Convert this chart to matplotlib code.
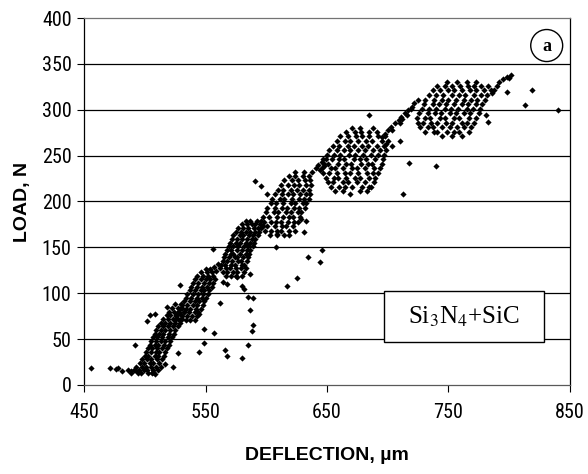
"""Load-deflection scatter for Si3N4+SiC, redrawn from the reference figure."""

import matplotlib

matplotlib.use("Agg")

import matplotlib.pyplot as plt
from matplotlib import font_manager
from matplotlib.patches import Ellipse, Rectangle
import numpy as np


# rows of (load, [deflections])
CLUSTER_1 = [
    (13, [489, 494, 497, 503, 506]),
    (16, [491, 495, 499, 502, 507, 511]),
    (20, [493, 498, 501, 505, 509, 513]),
    (24, [496, 499, 504, 507, 512]),
    (28, [498, 502, 505, 510, 514]),
    (32, [500, 503, 508, 511, 516]),
    (36, [501, 505, 509, 512, 517]),
    (40, [503, 506, 510, 514, 518]),
    (44, [504, 508, 511, 516, 520]),
    (48, [505, 509, 513, 517, 521]),
    (52, [507, 510, 514, 519, 522]),
    (56, [508, 512, 515, 520, 524]),
    (60, [509, 513, 517, 521, 525]),
    (64, [511, 515, 519, 523, 527]),
    (68, [513, 517, 521, 525, 529]),
    (72, [515, 519, 523, 527, 531]),
    (76, [518, 521, 526, 530]),
    (80, [520, 524, 528, 532]),
    (84, [522, 527, 531]),
    (88, [525, 530]),
]

CLUSTER_2 = [
    (71, [525, 529, 534, 537, 541]),
    (75, [526, 531, 535, 539, 543]),
    (79, [527, 532, 536, 541, 544]),
    (83, [529, 534, 537, 542, 546]),
    (87, [531, 535, 540, 543, 548]),
    (91, [532, 537, 541, 545, 549]),
    (95, [534, 538, 543, 547, 550]),
    (99, [535, 540, 544, 548, 552]),
    (103, [537, 541, 546, 549, 553]),
    (107, [538, 543, 547, 551, 555]),
    (111, [540, 544, 549, 553, 556]),
    (115, [541, 546, 550, 554, 558]),
    (119, [543, 548, 552, 556]),
    (123, [546, 551, 555]),
    (126, [550, 554]),
]

CLUSTER_3 = [
    (119, [567, 571, 575, 580]),
    (123, [564, 568, 573, 576, 582]),
    (127, [562, 567, 570, 575, 579, 583]),
    (131, [563, 566, 571, 574, 580, 582]),
    (135, [564, 568, 572, 577, 579, 584]),
    (139, [565, 569, 574, 576, 581, 585]),
    (143, [566, 571, 573, 578, 583, 586]),
    (147, [568, 571, 576, 580, 584, 587]),
    (151, [569, 573, 577, 582, 585, 589]),
    (155, [570, 575, 578, 583, 587, 590]),
    (159, [572, 576, 580, 584, 588, 591]),
    (163, [573, 578, 581, 586, 589, 593]),
    (167, [575, 579, 583, 587, 591, 594]),
    (171, [577, 581, 585, 590, 593, 596]),
    (175, [580, 584, 588, 591, 595]),
    (179, [583, 587, 592, 596]),
]

CLUSTER_4 = [
    (163, [603, 609, 615, 619]),
    (168, [599, 604, 609, 612, 619, 624]),
    (173, [597, 601, 607, 613, 616, 622]),
    (178, [598, 604, 608, 612, 618, 623, 626]),
    (183, [597, 602, 609, 614, 619, 622, 628]),
    (188, [600, 606, 610, 616, 620, 626, 629]),
    (193, [601, 607, 613, 617, 623, 627, 632]),
    (198, [604, 608, 614, 620, 624, 630, 633]),
    (203, [605, 611, 615, 621, 627, 631, 635]),
    (208, [607, 613, 618, 622, 628, 633, 636]),
    (213, [610, 614, 620, 625, 630, 635]),
    (218, [612, 618, 623, 627, 633, 637]),
    (223, [615, 621, 626, 632, 636]),
    (228, [619, 624, 630, 635]),
    (232, [624, 631]),
]

CLUSTER_5 = [
    (211, [657, 663, 677, 683]),
    (216, [653, 660, 665, 671, 679, 686]),
    (221, [651, 655, 663, 667, 675, 681, 689]),
    (226, [649, 656, 659, 666, 673, 677, 685, 690]),
    (231, [647, 652, 658, 665, 669, 676, 683, 688, 692]),
    (236, [646, 653, 657, 663, 671, 675, 681, 689, 694]),
    (241, [648, 651, 659, 666, 670, 678, 684, 687, 695]),
    (246, [647, 654, 660, 664, 672, 677, 682, 690, 696]),
    (251, [650, 656, 661, 668, 673, 680, 686, 692, 697]),
    (256, [652, 658, 664, 669, 676, 681, 688, 694, 699]),
    (261, [655, 660, 667, 672, 679, 684, 691, 697]),
    (266, [658, 665, 669, 676, 682, 687, 695, 700]),
    (271, [661, 667, 674, 679, 685, 692, 698]),
    (276, [666, 673, 678, 685, 691]),
    (280, [671, 677, 688]),
]

CLUSTER_6 = [
    (271, [745, 753, 761]),
    (276, [731, 738, 741, 749, 755, 759, 767]),
    (281, [727, 733, 737, 745, 751, 757, 763, 769]),
    (286, [725, 729, 736, 741, 748, 753, 761, 765, 771]),
    (291, [724, 731, 735, 743, 747, 755, 759, 767, 773]),
    (296, [726, 733, 739, 744, 751, 756, 763, 768, 775]),
    (301, [728, 734, 740, 747, 752, 758, 765, 770, 776]),
    (306, [730, 737, 742, 748, 755, 761, 766, 773, 778]),
    (311, [731, 738, 745, 750, 756, 763, 769, 774, 780]),
    (316, [734, 740, 746, 753, 759, 764, 771, 777, 782]),
    (321, [737, 743, 750, 755, 761, 768, 773, 779, 785]),
    (326, [741, 747, 753, 760, 766, 771, 777, 783]),
    (330, [749, 757, 765, 773]),
]

# sparse points between clusters and scattered outliers: (deflection, load)
SPARSE = [
    (456, 18), (471, 18), (476, 17), (478, 18), (481, 15), (486, 16),
    (489, 15), (492, 16), (494, 14), (492, 43), (502, 70), (504, 76),
    (508, 77), (518, 85), (529, 109), (507, 14), (508, 12), (517, 23),
    (523, 19), (527, 35), (545, 77), (549, 61), (549, 46), (545, 36),
    (557, 57), (562, 89), (564, 112), (568, 110), (556, 148), (566, 38),
    (568, 32), (580, 29), (585, 44), (589, 65), (588, 59), (587, 82),
    (589, 95), (585, 96), (580, 108), (582, 105), (587, 121), (576, 118),
    (557, 128), (560, 132), (559, 124),
    (608, 150), (617, 108), (625, 116), (609, 165), (601, 208),
    (596, 217), (591, 222), (629, 181), (633, 179), (631, 167),
    (646, 147), (634, 139), (644, 134),
    (638, 232), (641, 236), (643, 240), (646, 243), (649, 246),
    (644, 234), (648, 239), (669, 208), (685, 216), (685, 294),
    (695, 270), (698, 274), (700, 278), (703, 281), (706, 285),
    (709, 289), (711, 292), (714, 296), (717, 300), (720, 303),
    (722, 307), (725, 311), (704, 278), (710, 286), (716, 294),
    (712, 290), (719, 301), (704, 260), (710, 266), (699, 263),
    (718, 242), (740, 239), (713, 208),
    (781, 294), (783, 287), (786, 318), (788, 322), (790, 326),
    (792, 330), (795, 333), (798, 336), (802, 338), (800, 335),
    (798, 319), (813, 305), (819, 321), (840, 300),
]

X_TICKS = [450, 550, 650, 750, 850]
Y_TICKS = [0, 50, 100, 150, 200, 250, 300, 350, 400]
MATERIAL = r"Si$_3$N$_4$+SiC"
PANEL = "a"


def expand(rows):
    xs, ys = [], []
    for load, defl in rows:
        xs.extend(defl)
        ys.extend([load] * len(defl))
    return xs, ys


def all_points():
    xs, ys = [], []
    for rows in (CLUSTER_1, CLUSTER_2, CLUSTER_3, CLUSTER_4, CLUSTER_5, CLUSTER_6):
        cx, cy = expand(rows)
        xs.extend(cx)
        ys.extend(cy)
    for x, y in SPARSE:
        xs.append(x)
        ys.append(y)
    return np.array(xs, dtype=float), np.array(ys, dtype=float)


def narrow_font():
    # tick labels in the original are a condensed sans; use one if present
    for name in ("Liberation Sans Narrow", "DejaVu Sans Condensed",
                 "Roboto Condensed", "Open Sans Condensed"):
        try:
            font_manager.findfont(font_manager.FontProperties(family=name),
                                  fallback_to_default=False)
            return name
        except ValueError:
            continue
    return "Liberation Sans"


def main():
    plt.rcParams.update(
        {
            "font.family": ["Liberation Sans", "DejaVu Sans"],
            "mathtext.fontset": "stix",
        }
    )

    fig = plt.figure(figsize=(5.88, 4.74), dpi=100)
    ax = fig.add_axes([0.143, 0.188, 0.826, 0.774])

    x, y = all_points()

    for g in Y_TICKS[1:-1]:
        ax.axhline(g, color="black", linewidth=0.9, zorder=1)

    ax.scatter(x, y, marker="D", s=10, color="black", linewidths=0, zorder=3)

    ax.set_xlim(450, 850)
    ax.set_ylim(0, 400)
    ax.set_xticks(X_TICKS)
    ax.set_yticks(Y_TICKS)

    tick_font = narrow_font()
    for lab in ax.get_xticklabels() + ax.get_yticklabels():
        lab.set_family(tick_font)
        lab.set_fontsize(14.5)

    ax.tick_params(axis="x", direction="out", length=5, width=0.8, pad=8)
    ax.tick_params(axis="y", direction="out", length=5, width=0.8, pad=4)

    ax.spines["left"].set_color("black")
    ax.spines["right"].set_color("black")
    ax.spines["top"].set_color("0.45")
    ax.spines["bottom"].set_color("0.35")
    for sp in ax.spines.values():
        sp.set_linewidth(0.9)

    ax.set_xlabel("DEFLECTION, µm", fontsize=14, fontweight="bold", labelpad=18)
    ax.set_ylabel("LOAD, N", fontsize=14, fontweight="bold", labelpad=8)

    # material label box
    ax.add_patch(
        Rectangle((697, 47), 132, 55, facecolor="white", edgecolor="black",
                  linewidth=1.0, zorder=4)
    )
    ax.text(763, 74.5, MATERIAL, ha="center", va="center", fontsize=18,
            family="Liberation Serif", zorder=5)

    # panel tag in a circle
    ax.add_patch(
        Ellipse((831, 370), 26.3, 34.9, facecolor="white", edgecolor="black",
                linewidth=1.0, zorder=4)
    )
    ax.text(831, 369, PANEL, ha="center", va="center", fontsize=13,
            family="Liberation Serif", fontweight="bold", zorder=5)

    fig.savefig("out.png", dpi=100)
    plt.close(fig)


if __name__ == "__main__":
    main()
